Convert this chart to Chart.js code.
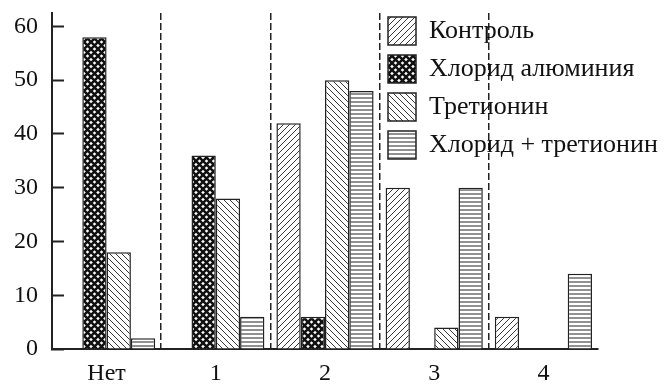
<!DOCTYPE html>
<html>
<head>
<meta charset="utf-8">
<script src="https://cdn.jsdelivr.net/npm/chart.js@4"></script>
<style>
  html, body { margin: 0; padding: 0; background: #fff; }
  #wrap { width: 669px; height: 385px; }
</style>
</head>
<body>
<div id="wrap"><canvas id="chart" width="669" height="385"></canvas></div>
<script>
const categories = ["Нет", "1", "2", "3", "4"];
const seriesNames = ["Контроль", "Хлорид алюминия", "Третионин", "Хлорид + третионин"];
const control = [0, 0, 42, 30, 6];
const chloride = [58, 36, 6, 0, 0];
const tretinoin = [18, 28, 50, 4, 0];
const combined = [2, 6, 48, 30, 14];
const yMin = 0;
const yMax = 62.5;
const yStep = 5;
const yLabelStep = 10;

const INK = "#222";
const FONT = "'Liberation Serif', 'Times New Roman', serif";

function makePattern(size, draw) {
  const c = document.createElement("canvas");
  c.width = size;
  c.height = size;
  const g = c.getContext("2d");
  g.fillStyle = "#fff";
  g.fillRect(0, 0, size, size);
  g.strokeStyle = INK;
  draw(g, size);
  return g.createPattern(c, "repeat");
}

// "/" hatch
const slashFill = makePattern(6, (g, s) => {
  g.lineWidth = 0.9;
  g.beginPath();
  g.moveTo(-1, s + 1); g.lineTo(s + 1, -1);
  g.moveTo(-1, 1); g.lineTo(1, -1);
  g.moveTo(s - 1, s + 1); g.lineTo(s + 1, s - 1);
  g.stroke();
});

// "\" hatch
const backslashFill = makePattern(6, (g, s) => {
  g.lineWidth = 0.9;
  g.beginPath();
  g.moveTo(-1, -1); g.lineTo(s + 1, s + 1);
  g.moveTo(s - 1, -1); g.lineTo(s + 1, 1);
  g.moveTo(-1, s - 1); g.lineTo(1, s + 1);
  g.stroke();
});

// horizontal lines
const horizFill = makePattern(4, (g, s) => {
  g.lineWidth = 1;
  g.beginPath();
  g.moveTo(0, 2); g.lineTo(s, 2);
  g.stroke();
});

// dense cross hatch
const crossFill = makePattern(7, (g, s) => {
  g.lineWidth = 2.5;
  g.strokeStyle = "#111";
  g.beginPath();
  g.moveTo(-1, -1); g.lineTo(s + 1, s + 1);
  g.moveTo(s + 1, -1); g.lineTo(-1, s + 1);
  g.stroke();
});

const fills = [slashFill, crossFill, backslashFill, horizFill];
const values = [control, chloride, tretinoin, combined];

// move the legend to the upper right, over the plot
const legendPlacer = {
  id: "legendPlacer",
  afterLayout(chart) {
    const lg = chart.legend;
    if (!lg) return;
    const w = lg.width, h = lg.height;
    lg.left = 378;
    lg.right = lg.left + w;
    lg.top = 7;
    lg.bottom = lg.top + h;
  }
};

new Chart(document.getElementById("chart").getContext("2d"), {
  type: "bar",
  data: {
    labels: categories,
    datasets: values.map((data, i) => ({
      label: seriesNames[i],
      data: data,
      backgroundColor: fills[i],
      borderColor: INK,
      borderWidth: 1.5,
      categoryPercentage: 0.89,
      barPercentage: 1,
    })),
  },
  options: {
    responsive: false,
    animation: false,
    layout: {
      padding: { left: 14, right: 71, top: 13, bottom: 0 },
    },
    plugins: {
      legend: {
        position: "chartArea",
        align: "start",
        labels: {
          boxWidth: 28,
          boxHeight: 28,
          padding: 10,
          color: "#111",
          font: { family: FONT, size: 26 },
        },
      },
      tooltip: { enabled: false },
    },
    scales: {
      x: {
        offset: true,
        grid: {
          offset: true,
          drawTicks: false,
          lineWidth: 1.5,
          color: (ctx) =>
            ctx.type === "tick" && ctx.index > 0 ? INK : "rgba(0,0,0,0)",
        },
        border: { color: INK, width: 2, dash: [7, 3] },
        ticks: {
          color: "#111",
          padding: 10,
          font: { family: FONT, size: 24 },
        },
        afterFit: (scale) => {
          scale.height = 36;
          scale.paddingLeft = 0;
          scale.paddingRight = 0;
        },
      },
      y: {
        min: yMin,
        max: yMax,
        grid: {
          drawOnChartArea: false,
          drawTicks: true,
          tickLength: -12,
          tickWidth: 2,
          tickColor: INK,
          tickBorderDash: (ctx) =>
            ctx.tick && ctx.tick.value % yLabelStep !== 0 ? [0, 5, 20] : [],
        },
        border: { color: INK, width: 2 },
        ticks: {
          stepSize: yStep,
          includeBounds: false,
          padding: 26,
          color: "#111",
          font: { family: FONT, size: 24 },
          callback: (v) => (v % yLabelStep === 0 ? v : ""),
        },
        afterFit: (scale) => {
          scale.width = 38;
          scale.paddingTop = 0;
          scale.paddingBottom = 0;
        },
      },
    },
  },
  plugins: [legendPlacer],
});
</script>
</body>
</html>
